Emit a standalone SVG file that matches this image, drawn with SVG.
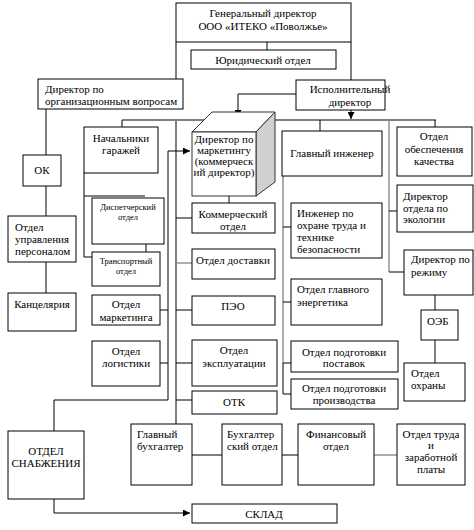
<svg xmlns="http://www.w3.org/2000/svg" width="474" height="530" viewBox="0 0 474 530">
<style>
.b{fill:#fff;stroke:#000;stroke-width:1}
text{font-family:Liberation Serif, Times New Roman, serif;font-size:11px;fill:#000}
.s{font-size:8.5px}
.c{text-anchor:middle}
.l{fill:none;stroke:#000;stroke-width:1}
.g{fill:none;stroke:#808080;stroke-width:2}
.g1{fill:none;stroke:#808080;stroke-width:1.3}
</style>
<defs>
<marker id="ar" viewBox="0 0 8 8" refX="8" refY="4" markerWidth="7" markerHeight="7" markerUnits="userSpaceOnUse" orient="auto">
<path d="M0,0 L8,4 L0,8 z" fill="#000"/>
</marker>
</defs>
<rect width="474" height="530" fill="#fff"/>

<g id="connectors">
<path class="g" d="M122,120 H436"/>
<path class="g" d="M176,120 V424"/>
<path class="g1" d="M389,120 V272"/>
<path class="g1" d="M283,176 V363"/>
<path class="l" d="M267,42 V50"/>
<path class="l" d="M176,42 V79"/>
<path class="l" d="M351,42 V80"/>
<path class="l" d="M296,94 H238 V117" marker-end="url(#ar)"/>
<path class="l" d="M351,110 V119" marker-end="url(#ar)"/>
<path class="l" d="M122,120 V127"/>
<path class="l" d="M320,120 V131"/>
<path class="l" d="M435,120 V127"/>
<path class="l" d="M389,211 H397 M389,272 H404"/>
<path class="l" d="M435,295 V310 M435,340 V363"/>
<path class="l" d="M46,109 V155 M46,186 V216 M46,262 V293"/>
<path class="l" d="M84,173 V257 H92 M84,196 H145"/>
<path class="l" d="M146,244 V252"/>
<path class="l" d="M168,151 H190" marker-end="url(#ar)"/>
<path class="l" d="M168,151 V400 H54 V431"/>
<path class="l" d="M160,310 H168 M160,363 H168"/>
<path class="l" d="M176,218 H192 M176,310 H192 M176,363 H192 M176,400 H192"/>
<path class="g1" d="M176,263 H192"/>
<path class="l" d="M229,196 V203"/>
<path class="l" d="M283,227 H291 M283,302 H291 M283,363 H291 M283,363 V394 H291"/>
<path class="l" d="M54,499 V513 H190" marker-end="url(#ar)"/>
<path class="l" d="M192,455 H222 M282,455 H298"/>
<path class="g1" d="M374,455 H397"/>
</g>

<g id="gen-dir">
<rect class="b" x="176" y="3" width="175" height="39"/>
<text class="c" x="263" y="17">Генеральный директор</text>
<text class="c" x="263" y="30">ООО «ИТЕКО «Поволжье»</text>
</g>
<g id="legal">
<rect class="b" x="191" y="50" width="145" height="19"/>
<text class="c" x="263" y="64">Юридический отдел</text>
</g>
<g id="dir-org">
<rect class="b" x="38" y="79" width="145" height="30"/>
<text x="45" y="93">Директор по</text>
<text x="45" y="105">организационным вопросам</text>
</g>
<g id="exec-dir">
<rect class="b" x="296" y="80" width="89" height="30"/>
<text class="c" x="350" y="93">Исполнительный</text>
<text class="c" x="350" y="106">директор</text>
</g>
<g id="ok">
<rect class="b" x="23" y="155" width="38" height="31"/>
<text class="c" x="42" y="174">ОК</text>
</g>
<g id="hr">
<rect class="b" x="8" y="216" width="68" height="46"/>
<text x="15" y="231">Отдел</text>
<text x="15" y="243">управления</text>
<text x="15" y="255">персоналом</text>
</g>
<g id="office">
<rect class="b" x="8" y="293" width="68" height="38"/>
<text class="c" x="42" y="308">Канцелярия</text>
</g>
<g id="garages">
<rect class="b" x="84" y="127" width="74" height="46"/>
<text class="c" x="121" y="142">Начальники</text>
<text class="c" x="121" y="154">гаражей</text>
</g>
<g id="dispatch">
<rect class="b" x="92" y="198" width="72" height="46"/>
<text class="s c" x="128" y="210">Диспетчерский</text>
<text class="s c" x="128" y="220">отдел</text>
</g>
<g id="transport">
<rect class="b" x="92" y="252" width="68" height="34"/>
<text class="s c" x="126" y="264">Транспортный</text>
<text class="s c" x="126" y="274">отдел</text>
</g>
<g id="marketing">
<rect class="b" x="92" y="295" width="68" height="30"/>
<text class="c" x="126" y="308">Отдел</text>
<text class="c" x="126" y="321">маркетинга</text>
</g>
<g id="logistics">
<rect class="b" x="92" y="341" width="68" height="45"/>
<text class="c" x="126" y="355">Отдел</text>
<text class="c" x="126" y="367">логистики</text>
</g>
<g id="supply">
<rect class="b" x="8" y="431" width="76" height="68"/>
<text class="c" x="46" y="455">ОТДЕЛ</text>
<text class="c" x="46" y="467">СНАБЖЕНИЯ</text>
</g>
<g id="dir-marketing">
<path d="M192,132 L212,112 H275 L256,132 Z" fill="#fff" stroke="#333" stroke-width="1"/>
<path d="M256,132 L275,112 V182 L256,196 Z" fill="#d0d0d0" stroke="#333" stroke-width="1"/>
<rect x="192" y="132" width="64" height="64" fill="#fff" stroke="#333" stroke-width="1"/>
<text class="c" x="224" y="143">Директор по</text>
<text class="c" x="224" y="154">маркетингу</text>
<text class="c" x="224" y="165">(коммерческ</text>
<text class="c" x="224" y="176">ий директор)</text>
</g>
<g id="commercial">
<rect class="b" x="192" y="203" width="83" height="30"/>
<text class="c" x="233" y="218">Коммерческий</text>
<text class="c" x="233" y="230">отдел</text>
</g>
<g id="delivery">
<rect class="b" x="192" y="249" width="83" height="30"/>
<text class="c" x="233" y="264">Отдел доставки</text>
</g>
<g id="peo">
<rect class="b" x="192" y="296" width="83" height="29"/>
<text class="c" x="233" y="310">ПЭО</text>
</g>
<g id="operation">
<rect class="b" x="192" y="340" width="85" height="46"/>
<text class="c" x="234" y="354">Отдел</text>
<text class="c" x="234" y="367">эксплуатации</text>
</g>
<g id="otk">
<rect class="b" x="192" y="391" width="85" height="23"/>
<text class="c" x="234" y="406">ОТК</text>
</g>
<g id="chief-eng">
<rect class="b" x="282" y="131" width="100" height="45"/>
<text class="c" x="332" y="157">Главный инженер</text>
</g>
<g id="safety">
<rect class="b" x="291" y="203" width="91" height="55"/>
<text x="297" y="217">Инженер по</text>
<text x="297" y="229">охране труда и</text>
<text x="297" y="241">технике</text>
<text x="297" y="253">безопасности</text>
</g>
<g id="energy">
<rect class="b" x="291" y="279" width="91" height="46"/>
<text x="297" y="293">Отдел главного</text>
<text x="297" y="306">энергетика</text>
</g>
<g id="prep-supply">
<rect class="b" x="291" y="341" width="107" height="31"/>
<text class="c" x="344" y="356">Отдел подготовки</text>
<text class="c" x="344" y="367">поставок</text>
</g>
<g id="prep-prod">
<rect class="b" x="291" y="379" width="107" height="30"/>
<text class="c" x="344" y="392">Отдел подготовки</text>
<text class="c" x="344" y="404">производства</text>
</g>
<g id="quality">
<rect class="b" x="397" y="127" width="75" height="49"/>
<text class="c" x="434" y="140">Отдел</text>
<text class="c" x="434" y="153">обеспечения</text>
<text class="c" x="434" y="165">качества</text>
</g>
<g id="ecology">
<rect class="b" x="397" y="185" width="76" height="47"/>
<text x="403" y="200">Директор</text>
<text x="403" y="212">отдела по</text>
<text x="403" y="223">экологии</text>
</g>
<g id="regime">
<rect class="b" x="404" y="250" width="69" height="45"/>
<text x="411" y="263">Директор по</text>
<text x="411" y="276">режиму</text>
</g>
<g id="oeb">
<rect class="b" x="421" y="310" width="37" height="30"/>
<text x="427" y="325">ОЭБ</text>
</g>
<g id="security">
<rect class="b" x="404" y="363" width="61" height="38"/>
<text x="411" y="377">Отдел</text>
<text x="411" y="389">охраны</text>
</g>
<g id="chief-acc">
<rect class="b" x="131" y="424" width="61" height="61"/>
<text x="137" y="438">Главный</text>
<text x="137" y="450">бухгалтер</text>
</g>
<g id="accounting">
<rect class="b" x="222" y="424" width="60" height="61"/>
<text x="227" y="438">Бухгалтер</text>
<text x="227" y="450">ский отдел</text>
</g>
<g id="finance">
<rect class="b" x="298" y="424" width="76" height="61"/>
<text class="c" x="336" y="438">Финансовый</text>
<text class="c" x="336" y="450">отдел</text>
</g>
<g id="labor">
<rect class="b" x="397" y="424" width="68" height="61"/>
<text class="c" x="431" y="438">Отдел труда</text>
<text class="c" x="431" y="449">и</text>
<text class="c" x="431" y="461">заработной</text>
<text class="c" x="431" y="473">платы</text>
</g>
<g id="warehouse">
<rect class="b" x="192" y="504" width="145" height="19"/>
<text class="c" x="264" y="518">СКЛАД</text>
</g>
</svg>
